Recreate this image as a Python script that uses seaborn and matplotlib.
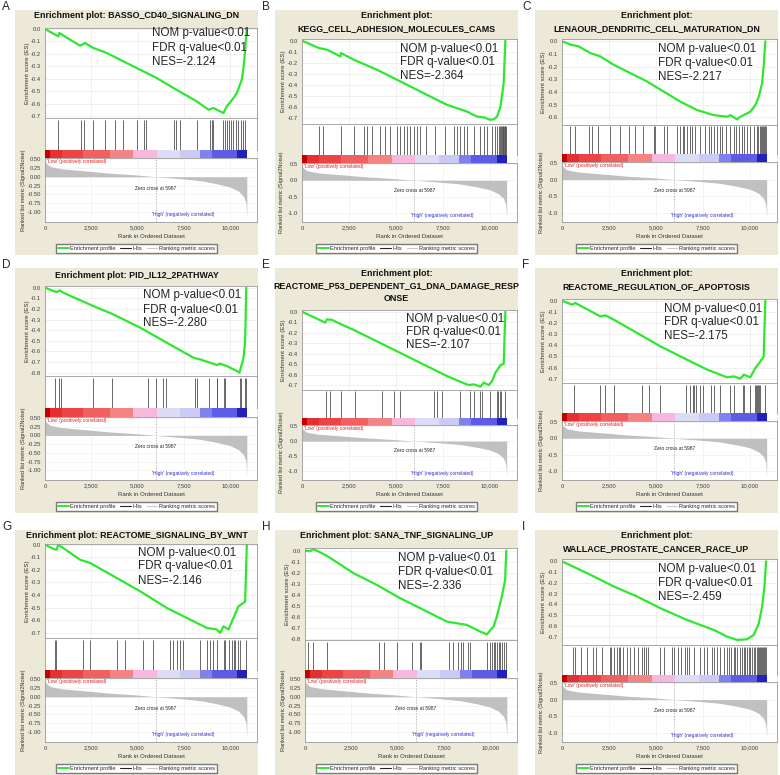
import matplotlib
matplotlib.use("Agg")
import matplotlib.pyplot as plt
import seaborn as sns
import pandas as pd
from matplotlib.lines import Line2D
from matplotlib.patches import Rectangle
from matplotlib.ticker import MultipleLocator, FormatStrFormatter, FuncFormatter

sns.set_style("white")
plt.rcParams['font.family'] = ['Liberation Sans', 'DejaVu Sans']

# ---- data ----
letters = ['A', 'B', 'C', 'D', 'E', 'F', 'G', 'H', 'I']
gene_sets = ['BASSO_CD40_SIGNALING_DN', 'KEGG_CELL_ADHESION_MOLECULES_CAMS',
             'LENAOUR_DENDRITIC_CELL_MATURATION_DN', 'PID_IL12_2PATHWAY',
             'REACTOME_P53_DEPENDENT_G1_DNA_DAMAGE_RESP\nONSE',
             'REACTOME_REGULATION_OF_APOPTOSIS', 'REACTOME_SIGNALING_BY_WNT',
             'SANA_TNF_SIGNALING_UP', 'WALLACE_PROSTATE_CANCER_RACE_UP']
nes = [-2.124, -2.364, -2.217, -2.280, -2.107, -2.175, -2.146, -2.336, -2.459]
nom_p = '<0.01'
fdr_q = '<0.01'

es_rank_a = [0, 720, 775, 1890, 2160, 2610, 3330, 3870, 4955, 6040, 6940, 8200, 8830, 9100, 9460, 9640, 9820, 10180, 10360, 10630, 10720, 10810, 10900]
es_a = [0, -0.059, -0.032, -0.134, -0.112, -0.152, -0.192, -0.232, -0.313, -0.393, -0.473, -0.58, -0.647, -0.633, -0.66, -0.673, -0.62, -0.553, -0.513, -0.406, -0.313, -0.166, 0.0]
es_rank_b = [0, 890, 1330, 2040, 2080, 2750, 4000, 5240, 6660, 7730, 8790, 9320, 9680, 10030, 10210, 10390, 10570, 10740, 10830]
es_b = [0, -0.067, -0.082, -0.143, -0.113, -0.173, -0.265, -0.371, -0.493, -0.584, -0.645, -0.691, -0.697, -0.72, -0.715, -0.691, -0.6, -0.386, 0.0]
es_rank_c = [0, 444, 888, 1510, 2040, 2750, 3640, 4530, 5420, 6300, 7190, 8080, 8790, 8970, 9320, 9500, 10030, 10300, 10480, 10660, 10740, 10830]
es_c = [0, -0.026, -0.04, -0.093, -0.119, -0.185, -0.251, -0.317, -0.397, -0.476, -0.542, -0.582, -0.595, -0.582, -0.616, -0.595, -0.555, -0.502, -0.436, -0.33, -0.198, 0.0]
es_rank_d = [0, 450, 630, 810, 990, 2610, 3690, 5140, 6580, 8020, 8380, 8920, 9280, 9460, 9820, 10360, 10500, 10630, 10720, 10810, 10870]
es_d = [0, -0.031, -0.041, -0.025, -0.047, -0.173, -0.251, -0.376, -0.518, -0.659, -0.675, -0.706, -0.728, -0.715, -0.737, -0.784, -0.8, -0.72, -0.659, -0.502, 0.0]
es_rank_e = [0, 1240, 1330, 1600, 2040, 2750, 3820, 5240, 6660, 7730, 8440, 8880, 9150, 9500, 9680, 9950, 10120, 10300, 10570, 10740, 10830]
es_e = [0, -0.104, -0.072, -0.078, -0.116, -0.173, -0.267, -0.392, -0.518, -0.612, -0.666, -0.697, -0.69, -0.712, -0.675, -0.697, -0.659, -0.58, -0.508, -0.496, 0.0]
es_rank_f = [0, 533, 710, 2040, 2310, 2750, 4000, 5240, 6660, 7730, 8790, 9150, 9500, 9680, 10030, 10300, 10570, 10740, 10830]
es_f = [0, -0.036, -0.021, -0.141, -0.132, -0.17, -0.29, -0.41, -0.53, -0.619, -0.688, -0.68, -0.7, -0.664, -0.688, -0.604, -0.544, -0.5, 0.0]
es_rank_g = [0, 450, 630, 720, 1890, 2430, 3870, 5140, 6580, 7660, 8740, 9280, 9460, 9640, 9910, 10180, 10450, 10720, 10810, 10900]
es_g = [0, -0.034, -0.04, 0.0, -0.119, -0.145, -0.264, -0.37, -0.502, -0.581, -0.66, -0.673, -0.7, -0.647, -0.673, -0.581, -0.489, -0.462, -0.449, 0.0]
es_rank_h = [0, 270, 450, 1170, 2610, 3870, 5140, 6580, 7660, 8200, 8740, 9460, 9820, 10180, 10360, 10630, 10810, 10870]
es_h = [0, -0.006, 0.015, -0.045, -0.202, -0.308, -0.429, -0.549, -0.64, -0.655, -0.67, -0.73, -0.755, -0.685, -0.595, -0.414, -0.263, 0.0]
es_rank_i = [0, 1330, 2750, 4000, 5240, 6660, 8080, 8790, 9320, 9860, 10210, 10480, 10660, 10780, 10870]
es_i = [0, -0.109, -0.233, -0.327, -0.436, -0.545, -0.638, -0.7, -0.731, -0.725, -0.684, -0.576, -0.42, -0.233, 0.0]

hits_a = [720, 1930, 2110, 2580, 3240, 3780, 4200, 4960, 5350, 5460, 6990, 7060, 7300, 8200, 8920, 9010, 9100, 9640, 9730, 9820, 9930, 10040, 10180, 10290, 10400, 10580, 10690, 10810]
hits_b = [890, 1120, 2080, 2750, 3290, 3460, 3730, 4170, 4440, 4670, 5060, 5240, 5450, 5590, 5770, 5950, 6130, 6300, 6630, 7100, 7640, 8080, 8260, 8440, 8610, 8790, 9150, 9500, 9680, 9860, 10120, 10300, 10400, 10480, 10570, 10620, 10660, 10700, 10730, 10760, 10790, 10820, 10840]
hits_c = [444, 710, 1421, 1598, 1900, 2540, 3108, 3552, 3907, 4316, 4884, 4973, 5417, 5594, 6127, 6269, 6429, 6518, 6660, 6838, 6926, 7104, 7370, 7637, 7814, 7939, 8081, 8258, 8400, 8525, 8756, 8933, 9146, 9288, 9413, 9590, 9715, 9857, 10034, 10212, 10390, 10425, 10532, 10603, 10674, 10727, 10780, 10834, 10869]
hits_d = [541, 775, 847, 2613, 3640, 5586, 6001, 6361, 6541, 8109, 8199, 8884, 9280, 9316, 9641, 9731, 10506, 10578, 10812, 10848]
hits_e = [1279, 1510, 2078, 2842, 4262, 4884, 5204, 7015, 7193, 7459, 8400, 8933, 9146, 9502, 9590, 10034, 10390, 10425, 10532, 10603, 10798]
hits_f = [657, 2042, 2309, 2753, 4262, 4618, 5239, 6624, 6838, 6980, 7051, 7157, 7370, 7512, 7939, 8081, 8400, 8933, 9146, 9643, 9715, 10034, 10301, 10354, 10408, 10461, 10514, 10567, 10834]
hits_g = [541, 595, 2036, 2433, 3874, 4325, 5280, 5820, 6758, 6938, 7118, 7298, 7442, 8379, 8740, 8920, 9100, 9280, 9641, 9731, 9911, 10091, 10181, 10271, 10397, 10541, 10866]
hits_h = [180, 451, 1171, 4018, 4271, 4956, 5766, 6217, 6271, 7803, 7983, 8289, 8415, 8560, 8830, 8920, 9821, 9965, 10091, 10181, 10235, 10361, 10451, 10541, 10631, 10721, 10866]
hits_i = [586, 710, 1012, 1332, 1652, 1829, 2131, 2540, 2611, 2753, 2930, 3019, 3108, 3250, 3463, 3641, 3818, 4032, 4262, 4387, 4493, 4564, 5239, 5417, 5861, 5950, 6163, 6340, 6571, 6660, 6749, 7015, 7370, 7548, 7726, 7992, 8116, 8258, 8436, 8614, 8791, 8880, 9004, 9146, 9235, 9324, 9502, 9590, 9679, 9768, 9857, 9946, 10034, 10123, 10212, 10301, 10390, 10440, 10490, 10540, 10590, 10640, 10690, 10740, 10790, 10840]

# ranked list metric (same dataset for every panel)
metric_rank = [0, 50, 270, 900, 2070, 3510, 4770, 5987, 7300, 8380, 9280, 10000, 10450, 10720, 10850, 10900]
metric_value = [0.45, 0.39, 0.29, 0.225, 0.17, 0.10, 0.056, 0.0, -0.056, -0.11, -0.2, -0.29, -0.41, -0.55, -0.74, -1.16]
zero_cross = 5987

# heat bar blocks along the ranked list
bar_edges = [0, 270, 900, 2070, 3510, 4770, 6040, 7300, 8380, 9010, 10360, 10900]
bar_colors = ['#c40000', '#e43030', '#ec4444', '#f06060', '#f48484', '#f7b8de',
              '#dcdcf6', '#cacaf4', '#8080ee', '#5c5ce4', '#2222bb']

es_ranks = [es_rank_a, es_rank_b, es_rank_c, es_rank_d, es_rank_e, es_rank_f, es_rank_g, es_rank_h, es_rank_i]
es_scores = [es_a, es_b, es_c, es_d, es_e, es_f, es_g, es_h, es_i]
hits = [hits_a, hits_b, hits_c, hits_d, hits_e, hits_f, hits_g, hits_h, hits_i]

# ---- layout (pixel positions inside each cell) ----
layout = {
    'A': dict(cell=(0, 0), left=45, es=(28, 118), hit=150, cbar=158, rank=222, es_lim=(-0.713, 0.008), fine=True, title_y=[16], stats=(152, [33, 48, 62])),
    'B': dict(cell=(260, 0), left=42, es=(39, 124), hit=155, cbar=163, rank=222, es_lim=(-0.758, 0.015), fine=False, title_y=[16, 29], stats=(140, [49, 62, 76])),
    'C': dict(cell=(520, 0), left=42, es=(39, 125), hit=154, cbar=162, rank=222, es_lim=(-0.66, 0.018), fine=False, title_y=[16, 29], stats=(138, [49, 63, 77])),
    'D': dict(cell=(0, 258), left=45, es=(28, 118), hit=150, cbar=159, rank=222, es_lim=(-0.831, 0.016), fine=True, title_y=[17], stats=(143, [37, 52, 65])),
    'E': dict(cell=(260, 258), left=42, es=(52, 132), hit=160, cbar=167, rank=222, es_lim=(-0.744, 0.016), fine=False, title_y=[16, 28, 41], stats=(146, [61, 74, 87])),
    'F': dict(cell=(520, 258), left=42, es=(41, 125), hit=155, cbar=163, rank=222, es_lim=(-0.739, 0.015), fine=False, title_y=[16, 29], stats=(144, [51, 64, 78])),
    'G': dict(cell=(0, 520), left=45, es=(24, 118), hit=150, cbar=158, rank=222, es_lim=(-0.74, 0.005), fine=True, title_y=[16], stats=(138, [33, 46, 61])),
    'H': dict(cell=(260, 520), left=45, es=(28, 120), hit=150, cbar=158, rank=222, es_lim=(-0.806, 0.024), fine=True, title_y=[16], stats=(138, [38, 52, 66])),
    'I': dict(cell=(520, 520), left=42, es=(39, 125), hit=155, cbar=162, rank=222, es_lim=(-0.778, 0.022), fine=False, title_y=[16, 29], stats=(138, [49, 63, 77])),
}

W, H = 780, 775
RIGHT = 257
XMAX = 11450
GREEN = '#2ee82e'
SPINE = '#9a9a9a'
TICK = 4.2

fig = plt.figure(figsize=(W / 100, H / 100), dpi=100)


def box(x0, y0, x1, y1):
    return [x0 / W, 1 - y1 / H, (x1 - x0) / W, (y1 - y0) / H]


def style_axes(ax):
    for s in ax.spines.values():
        s.set_color(SPINE)
        s.set_linewidth(0.6)
    ax.tick_params(labelsize=TICK, colors='#404040', length=1.5, width=0.4, pad=1.2)


for k, letter in enumerate(letters):
    L = layout[letter]
    cx, cy = L['cell']
    x0 = cx + L['left']
    x1 = cx + RIGHT

    # beige panel background
    bg = Rectangle(((cx + 15) / W, 1 - (cy + 255) / H), 243 / W, 245 / H,
                   transform=fig.transFigure, facecolor='#ece9d8', edgecolor='none', zorder=-10)
    fig.patches.append(bg)
    fig.text((cx + 2) / W, 1 - (cy + 1) / H, letter, fontsize=8.5, va='top', ha='left')

    # title
    if len(L['title_y']) == 1:
        lines = ['Enrichment plot: ' + gene_sets[k]]
    else:
        lines = ['Enrichment plot:'] + gene_sets[k].split('\n')
    for ln, ty in zip(lines, L['title_y']):
        fig.text((cx + 136.5) / W, 1 - (cy + ty) / H, ln, fontsize=6.4, weight='bold',
                 ha='center', va='center', color='#111111')

    # enrichment score
    ax_es = fig.add_axes(box(x0, cy + L['es'][0], x1, cy + L['es'][1]))
    df = pd.DataFrame({'rank': es_ranks[k], 'es': es_scores[k]})
    sns.lineplot(data=df, x='rank', y='es', ax=ax_es, color=GREEN, lw=1.6,
                 estimator=None, sort=False)
    ax_es.set_xlim(0, XMAX)
    ax_es.set_ylim(*L['es_lim'])
    ax_es.yaxis.set_major_locator(MultipleLocator(0.1))
    ax_es.yaxis.set_major_formatter(FormatStrFormatter('%.1f'))
    ax_es.xaxis.set_major_locator(MultipleLocator(2500))
    ax_es.set_xticklabels([])
    ax_es.tick_params(axis='x', length=0)
    ax_es.grid(True, color='#ececec', lw=0.5)
    ax_es.set_xlabel('')
    ax_es.set_ylabel('')
    style_axes(ax_es)
    mid = cy + (L['es'][0] + L['es'][1]) / 2
    fig.text((x0 - 18) / W, 1 - mid / H, 'Enrichment score (ES)', rotation=90,
             fontsize=4.4, ha='center', va='center', color='#333333')

    sx, sys_ = L['stats']
    for txt, ty in zip(['NOM p-value' + nom_p, 'FDR q-value' + fdr_q, 'NES=%.3f' % nes[k]], sys_):
        fig.text((cx + sx) / W, 1 - (cy + ty) / H, txt, fontsize=8.4, ha='left', va='center')

    # hits
    ax_hit = fig.add_axes(box(x0, cy + L['es'][1], x1, cy + L['hit']))
    ax_hit.vlines(hits[k], 0, 0.95, color='#505050', lw=0.6)
    ax_hit.set_xlim(0, XMAX)
    ax_hit.set_ylim(0, 1)
    ax_hit.set_xticks([])
    ax_hit.set_yticks([])
    style_axes(ax_hit)

    # heat bar
    ax_bar = fig.add_axes(box(x0, cy + L['hit'], x1, cy + L['cbar']))
    spans = [(bar_edges[j], bar_edges[j + 1] - bar_edges[j]) for j in range(len(bar_colors))]
    ax_bar.broken_barh(spans, (0, 1), facecolors=bar_colors, linewidth=0, antialiased=False)
    ax_bar.set_xlim(0, XMAX)
    ax_bar.set_ylim(0, 1)
    ax_bar.set_xticks([])
    ax_bar.set_yticks([])
    for s in ax_bar.spines.values():
        s.set_visible(False)

    # ranked list metric
    ax_r = fig.add_axes(box(x0, cy + L['cbar'], x1, cy + L['rank']))
    ax_r.fill_between(metric_rank, metric_value, 0, color='#c0c0c0', lw=0)
    ax_r.axvline(zero_cross, color='#a0a0a0', lw=0.5, ls=(0, (2, 2)))
    ax_r.set_xlim(0, XMAX)
    if L['fine']:
        ax_r.set_ylim(-1.28, 0.53)
        ax_r.set_yticks([0.5, 0.25, 0.0, -0.25, -0.5, -0.75, -1.0])
        ax_r.yaxis.set_major_formatter(FormatStrFormatter('%.2f'))
    else:
        ax_r.set_ylim(-1.28, 0.53)
        ax_r.set_yticks([0.5, 0.0, -0.5, -1.0])
        ax_r.yaxis.set_major_formatter(FormatStrFormatter('%.1f'))
    ax_r.set_xticks([0, 2500, 5000, 7500, 10000])
    ax_r.xaxis.set_major_formatter(FuncFormatter(lambda v, p: '{:,}'.format(int(v))))
    ax_r.grid(True, color='#f0f0f0', lw=0.5)
    style_axes(ax_r)
    ax_r.text(120, 0.985, "'Low' (positively correlated)", transform=ax_r.get_xaxis_transform(),
              fontsize=3.5, color='#e02020', va='top', ha='left')
    ax_r.text(6000, 0.53, 'Zero cross at %d' % zero_cross, transform=ax_r.get_xaxis_transform(),
              fontsize=3.5, color='#222222', va='center', ha='center')
    ax_r.text(7470, 0.11, "'High' (negatively correlated)", transform=ax_r.get_xaxis_transform(),
              fontsize=3.5, color='#3030d0', va='center', ha='center')
    fig.text((x0 + x1) / 2 / W, 1 - (cy + 236) / H, 'Rank in Ordered Dataset',
             fontsize=4.3, ha='center', va='center', color='#333333')
    rmid = cy + (L['cbar'] + L['rank']) / 2
    fig.text((x0 - 21) / W, 1 - rmid / H, 'Ranked list metric (Signal2Noise)', rotation=90,
             fontsize=4.0, ha='center', va='center', color='#333333')

    handles = [Line2D([], [], color=GREEN, lw=1.4), Line2D([], [], color='#222222', lw=0.8),
               Line2D([], [], color='#c8c8c8', lw=0.8)]
    fig.legend(handles, ['Enrichment profile', 'Hits', 'Ranking metric scores'],
               loc='center', bbox_to_anchor=((cx + 136.5) / W, 1 - (cy + 248.5) / H),
               ncol=3, fontsize=4.1, frameon=True, fancybox=False, edgecolor='#7a7a7a',
               facecolor='white', framealpha=1, handlelength=1.8, handletextpad=0.3,
               columnspacing=0.8, borderpad=0.35, borderaxespad=0)

fig.savefig('out.png', dpi=100)
